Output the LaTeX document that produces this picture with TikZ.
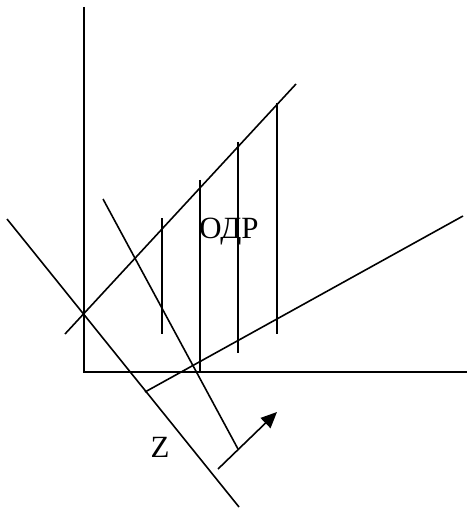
\documentclass[tikz,border=0pt]{standalone}
\usepackage{fontspec}
\setmainfont{Liberation Serif}
\usetikzlibrary{arrows.meta}

\begin{document}
\begin{tikzpicture}[
  x=1bp, y=-1bp,
  linia/.style={line width=1.6pt, line cap=butt},
  strel/.style={linia, -{Triangle[length=16bp, width=14bp]}},
  metka/.style={font=\fontsize{31}{36}\selectfont, inner sep=0pt}
]
  \useasboundingbox (0,0) rectangle (467,509);
  % osi
  \coordinate (O) at (84,372);
  \draw[linia] (84,7) -- (O) -- (467,372);
  % ogranicheniya
  \draw[linia] (65,334) -- (296,84);
  \draw[linia] (145,392) -- (463,216);
  \draw[linia] (7,219) -- (239,507);
  \draw[linia] (103,199) -- (238,449);
  % shtrihovka ODR
  \draw[linia] (162,218) -- (162,334);
  \draw[linia] (200,180) -- (200,372);
  \draw[linia] (238,142) -- (238,353);
  \draw[linia] (277,103) -- (277,334);
  % napravlenie Z
  \draw[strel] (218,469) -- (277,412);
  \node[metka] (odr) at (229,232) {ОДР};
  \node[metka] (z) at (160,447) {Z};
\end{tikzpicture}
\end{document}
